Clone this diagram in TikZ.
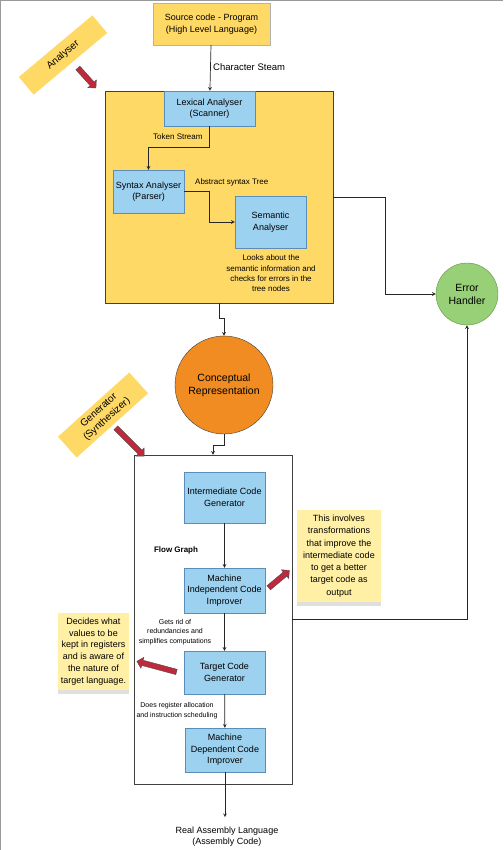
\documentclass[tikz,border=0pt]{standalone}
\usepackage{fontspec}
\setmainfont{Liberation Sans}
\usetikzlibrary{positioning, arrows, shapes.arrows, shadows}

\definecolor{anafill}{HTML}{FFD966}
\definecolor{blkfill}{HTML}{9DD1F0}
\definecolor{blkline}{HTML}{5A8DB8}
\definecolor{errfill}{HTML}{97D077}
\definecolor{errline}{HTML}{5F8F45}
\definecolor{confill}{HTML}{F08C21}
\definecolor{notefill}{HTML}{FFF0A5}
\definecolor{ptrfill}{HTML}{C0283C}

\begin{document}
\begin{tikzpicture}[x=1pt,y=-1pt,>=stealth]
	\tikzstyle{every node}=[font=\fontsize{9}{11.5}\selectfont,align=center]
	\tikzstyle{block}=[rectangle,draw=blkline,fill=blkfill,inner sep=0pt]
	\tikzstyle{circ}=[circle,draw=black!75,inner sep=0pt,font=\fontsize{10.5}{13}\selectfont]
	\tikzstyle{note}=[rectangle,fill=notefill,inner sep=0pt,drop shadow={shadow xshift=0pt,shadow yshift=-4pt,opacity=0.25}]
	\tikzstyle{tag}=[rectangle,fill=anafill,inner sep=0pt,font=\fontsize{10}{12}\selectfont]
	\tikzstyle{lbl}=[font=\fontsize{8}{10.3}\selectfont,inner sep=0pt]
	\tikzstyle{smalllbl}=[font=\fontsize{7}{9.5}\selectfont,inner sep=0pt]
	\tikzstyle{pointer}=[single arrow,draw=black!70,fill=ptrfill,inner sep=2.5pt,single arrow head extend=3pt,minimum height=27pt]
	\tikzstyle{conn}=[draw=black!85,line width=0.7pt,->]

	\useasboundingbox (0,0) rectangle (503,850);
	\draw[black!40,line width=1.2pt] (0.5,850) -- (0.5,0.5) -- (503,0.5);

	% analyser part
	\node[rectangle,draw=black!75,fill=anafill,minimum width=228pt,minimum height=212pt] (ana) at (219,197) {};
	\node[rectangle,draw=black!30,fill=anafill,minimum width=117pt,minimum height=42pt] (src) at (211.5,24) {Source code - Program\\(High Level Language)};
	\node[block,minimum width=91pt,minimum height=35pt] (lex) at (209.5,108.5) {Lexical Analyser\\(Scanner)};
	\node[block,minimum width=71pt,minimum height=43pt] (syn) at (148.5,191.5) {Syntax Analyser\\(Parser)};
	\node[block,minimum width=71pt,minimum height=52pt] (sem) at (270.5,222) {Semantic\\Analyser};
	\node[lbl,anchor=west] (tok) at (153,137) {Token Stream};
	\node[lbl,anchor=west] (ast) at (195,182) {Abstract syntax Tree};
	\node[lbl] (look) at (271,273.5) {Looks about the\\semantic information and\\checks for errors in the\\tree nodes};
	\node[anchor=west,inner sep=0pt,font=\fontsize{9.5}{11.5}\selectfont] (chr) at (213,67) {Character Steam};
	\node[tag,rotate=40,minimum width=96pt,minimum height=23pt] (anatag) at (63,55) {Analyser};
	\node[pointer,rotate=-48] (p1) at (86,77) {};

	\node[circ,fill=errfill,draw=errline,minimum size=62pt] (err) at (467,294) {Error\\Handler};
	\node[circ,fill=confill,minimum size=98pt] (con) at (224,385) {Conceptual\\Representation};

	% generator part
	\node[rectangle,draw=black!75,fill=white,minimum width=158pt,minimum height=329pt] (gen) at (213,619.5) {};
	\node[tag,rotate=42,minimum width=96pt,minimum height=28pt] (gentag) at (103,415) {Generator\\(Synthesizer)};
	\node[pointer,rotate=-45,minimum height=40pt] (p2) at (129,441) {};
	\node[block,minimum width=81pt,minimum height=51pt] (icg) at (224.5,497.5) {Intermediate Code\\Generator};
	\node[block,minimum width=81pt,minimum height=45pt] (mici) at (224.5,590.5) {Machine\\Independent Code\\Improver};
	\node[block,minimum width=81pt,minimum height=43pt] (tcg) at (224.5,672.5) {Target Code\\Generator};
	\node[block,minimum width=80pt,minimum height=44pt] (mdci) at (225,750) {Machine\\Dependent Code\\Improver};
	\node[lbl,font=\bfseries\fontsize{8}{10}\selectfont] (flow) at (176,550) {Flow Graph};
	\node[smalllbl] (rid) at (175,632) {Gets rid of\\redundancies and\\simplifies computations};
	\node[smalllbl] (reg) at (177,710.5) {Does register allocation\\and instruction scheduling};
	\node[note,minimum width=84pt,minimum height=92pt,font=\fontsize{9}{12.3}\selectfont] (nt1) at (339,556) {This involves\\transformations\\that improve the\\intermediate code\\to get a better\\target code as\\output};
	\node[note,minimum width=71pt,minimum height=77pt,font=\fontsize{9}{11.7}\selectfont] (nt2) at (93.5,651.5) {Decides what\\values to be\\kept in registers\\and is aware of\\the nature of\\target language.};
	\node[pointer,rotate=40] (p3) at (278,580) {};
	\node[pointer,rotate=165,minimum height=41pt] (p4) at (158,667) {};
	\node[inner sep=0pt] (out) at (227,836.5) {Real Assembly Language\\(Assembly Code)};

	% connectors
	\draw[conn] (src) -- (lex);
	\draw[conn] (lex.south) -- ++(0,21) -| (syn.north);
	\draw[conn] (syn.east) -- ++(25,0) |- (sem.west);
	\draw[conn] (ana.east) -- ++(52,0) |- (err.west);
	\draw[conn] (ana.south) -- ++(0,15) -| (con.north);
	\draw[conn] (con.south) -- ++(0,11) -| (gen.north);
	\draw[conn] (gen.east) -| (err.south);
	\draw[conn] (icg) -- (mici);
	\draw[conn] (mici) -- (tcg);
	\draw[conn] (tcg) -- (mdci);
	\draw[conn] (mdci.south) -- ++(0,45);
\end{tikzpicture}
\end{document}
